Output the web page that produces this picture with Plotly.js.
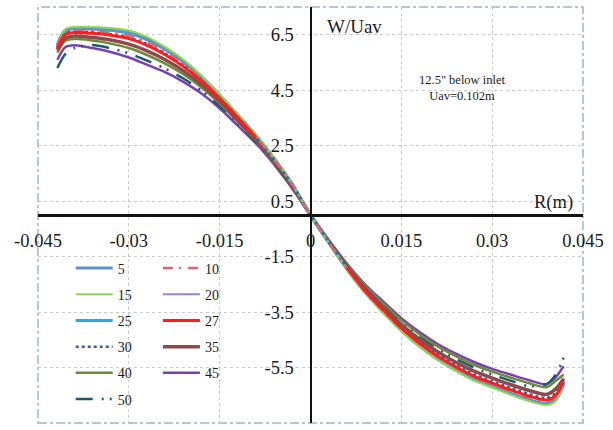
<!DOCTYPE html>
<html><head><meta charset="utf-8">
<script src="https://cdn.plot.ly/plotly-3.0.1.min.js"></script>
<style>html,body{margin:0;padding:0;background:#fff}#chart{width:613px;height:430px}</style>
</head><body><div id="chart"></div><script>
const R = [-0.0418,-0.0405,-0.039,-0.036,-0.033,-0.030,-0.027,-0.024,-0.021,-0.018,-0.015,-0.012,-0.009,-0.006,-0.003,0,0.003,0.006,0.009,0.012,0.015,0.018,0.021,0.024,0.027,0.030,0.033,0.036,0.039,0.0405,0.0418];

const w5  = [6.15,6.67,6.75,6.74,6.70,6.60,6.37,6.00,5.56,4.99,4.33,3.61,2.87,2.04,1.11,0,-1.00,-1.94,-2.79,-3.50,-4.16,-4.73,-5.20,-5.60,-5.94,-6.19,-6.44,-6.67,-6.82,-6.67,-6.10];
const w10 = [6.10,6.57,6.65,6.63,6.57,6.46,6.22,5.87,5.44,4.89,4.25,3.55,2.82,2.00,1.09,0,-0.98,-1.91,-2.75,-3.45,-4.10,-4.65,-5.12,-5.51,-5.85,-6.10,-6.34,-6.56,-6.71,-6.55,-6.00];
const w15 = [6.05,6.70,6.78,6.78,6.74,6.65,6.42,6.05,5.60,5.02,4.35,3.63,2.88,2.05,1.12,0,-1.00,-1.95,-2.80,-3.52,-4.18,-4.75,-5.22,-5.62,-5.97,-6.22,-6.47,-6.70,-6.85,-6.70,-6.05];
const w20 = [6.00,6.62,6.70,6.69,6.64,6.53,6.30,5.94,5.50,4.94,4.29,3.58,2.84,2.02,1.10,0,-0.99,-1.93,-2.78,-3.49,-4.14,-4.71,-5.17,-5.57,-5.92,-6.17,-6.41,-6.64,-6.79,-6.63,-6.05];
const w25 = [6.10,6.65,6.73,6.72,6.67,6.57,6.34,5.98,5.54,4.97,4.31,3.60,2.86,2.03,1.11,0,-0.99,-1.94,-2.78,-3.50,-4.15,-4.72,-5.19,-5.58,-5.93,-6.18,-6.43,-6.66,-6.80,-6.65,-6.08];
const w27 = [6.00,6.50,6.58,6.55,6.48,6.36,6.12,5.78,5.36,4.83,4.20,3.51,2.79,null,null,null,null,-1.90,-2.73,-3.42,-4.07,-4.62,-5.08,-5.47,-5.81,-6.06,-6.30,-6.52,-6.67,-6.50,-6.00];
const w30 = [6.05,6.54,6.61,6.59,6.52,6.41,6.17,5.82,5.40,4.86,4.22,3.53,2.80,1.99,1.08,0,-0.97,-1.88,-2.70,-3.39,-4.03,-4.58,-5.03,-5.42,-5.75,-6.00,-6.23,-6.45,-6.60,-6.42,-5.95];
const w35 = [5.95,6.37,6.45,6.40,6.31,6.16,5.92,5.60,5.20,4.70,4.10,3.42,2.73,1.93,1.03,0,-0.95,-1.85,-2.65,-3.32,-3.95,-4.48,-4.93,-5.31,-5.63,-5.88,-6.11,-6.32,-6.47,-6.27,-5.90];
const w40 = [5.85,6.28,6.35,6.29,6.18,6.02,5.77,5.46,5.08,4.60,4.02,3.36,2.68,1.90,1.01,0,-0.91,-1.78,-2.54,-3.18,-3.79,-4.30,-4.74,-5.09,-5.40,-5.65,-5.86,-6.06,-6.21,-5.98,-5.75];
const w45 = [5.60,6.05,6.12,6.02,5.88,5.68,5.42,5.15,4.80,4.38,3.85,3.22,2.58,1.82,0.95,0,-0.90,-1.75,-2.50,-3.12,-3.72,-4.22,-4.65,-5.00,-5.30,-5.55,-5.75,-5.95,-6.10,-5.85,-5.45];
const w50 = [5.30,5.80,6.02,6.13,6.01,5.83,5.57,5.28,4.92,4.48,3.92,3.28,2.62,1.85,0.98,0,-0.93,-1.81,-2.59,-3.24,-3.86,-4.38,-4.82,-5.19,-5.50,-5.75,-5.97,-6.17,-6.10,-5.75,-5.15];

const names = ['5','10','15','20','25','27','30','35','40','45','50'];
const xTickVals = [-0.045,-0.03,-0.015,0,0.015,0.03,0.045];
const xTickText = ['-0.045','-0.03','-0.015','0','0.015','0.03','0.045'];
const yTickVals = [-7.5,-5.5,-3.5,-1.5,0.5,2.5,4.5,6.5];
const yTickText = ['-7.5','-5.5','-3.5','-1.5','0.5','2.5','4.5','6.5'];

const data = {'5':w5,'10':w10,'15':w15,'20':w20,'25':w25,'27':w27,'30':w30,'35':w35,'40':w40,'45':w45,'50':w50};
const style = {
  '5':  {color:'#5e92d2', width:3, dash:'solid', legend:'legend', rank:1},
  '15': {color:'#8cd84c', width:2, dash:'solid', legend:'legend', rank:2},
  '25': {color:'#2ea8d8', width:3, dash:'solid', legend:'legend', rank:3},
  '30': {color:'#3b5d9e', width:2.5, dash:'dot', legend:'legend', rank:4},
  '40': {color:'#6b8b3a', width:2.5, dash:'solid', legend:'legend', rank:5},
  '50': {color:'#1d5a6b', width:2.5, dash:'17px,9px,2px,6px,2px,9px', legend:'legend', rank:6},
  '10': {color:'#d46a68', width:2.5, dash:'10px,6px,2px,7px', legend:'legend2', rank:1},
  '20': {color:'#9a80d2', width:2, dash:'solid', legend:'legend2', rank:2},
  '27': {color:'#ff1c1c', width:3, dash:'solid', legend:'legend2', rank:3},
  '35': {color:'#8c4a48', width:3.5, dash:'solid', legend:'legend2', rank:4},
  '45': {color:'#7b3fb5', width:2.5, dash:'solid', legend:'legend2', rank:5}
};
const drawOrder = ['45','50','40','35','20','25','5','15','30','10','27'];
const traces = drawOrder.map(n => ({
  x: R, y: data[n], name: n, type:'scatter', mode:'lines',
  line:{color:style[n].color, width:style[n].width, dash:style[n].dash, shape:'spline', smoothing:0.8},
  legend: style[n].legend, legendrank: style[n].rank, legendgroup: 'g'+n,
  connectgaps:false, hoverinfo:'skip'
}));

const serif = 'Liberation Serif';
const legendCommon = {
  bgcolor:'rgba(0,0,0,0)', borderwidth:0, font:{family:serif, size:14, color:'#1a1a1a'},
  itemwidth:37, tracegroupgap:5, traceorder:'grouped', xanchor:'left', yanchor:'top', itemclick:false
};

const layout = {
  width:613, height:430,
  margin:{l:38, r:30, t:7, b:7},
  paper_bgcolor:'#fff', plot_bgcolor:'#fff',
  font:{family:serif},
  showlegend:true,
  xaxis:{
    range:[-0.045,0.045], tickvals:xTickVals, ticktext:xTickText,
    anchor:'free', position:0.5, showline:true, linecolor:'#111', linewidth:2.5,
    zeroline:false, showgrid:true, gridcolor:'#c9c9c9', griddash:'dot', gridwidth:1,
    ticks:'', ticklabelstandoff:8, automargin:false,
    tickfont:{family:serif, size:18.5, color:'#1a1a1a'}
  },
  yaxis:{
    range:[-7.5,7.5], tickvals:yTickVals, ticktext:yTickText,
    anchor:'free', position:0.5, showline:true, linecolor:'#111', linewidth:2.5,
    zeroline:false, showgrid:true, gridcolor:'#c9c9c9', griddash:'dot', gridwidth:1,
    ticks:'', ticklabelstandoff:12, automargin:false,
    tickfont:{family:serif, size:18.5, color:'#1a1a1a'}
  },
  legend: Object.assign({}, legendCommon, {x:0.06, y:0.41}),
  legend2: Object.assign({}, legendCommon, {x:0.22, y:0.41}),
  shapes:[{type:'rect', xref:'paper', yref:'paper', x0:0, x1:1, y0:0, y1:1,
    line:{color:'#9fb4d0', width:1.5, dash:'dashdot'}, layer:'below'}],
  annotations:[
    {xref:'paper', yref:'paper', x:0.527, y:0.952, xanchor:'left', yanchor:'middle', showarrow:false,
     text:'W/Uav', font:{family:serif, size:19, color:'#1a1a1a'}},
    {xref:'paper', yref:'paper', x:0.985, y:0.529, xanchor:'right', yanchor:'middle', showarrow:false,
     text:'R(m)', font:{family:serif, size:18.5, color:'#1a1a1a'}},
    {xref:'paper', yref:'paper', x:0.778, y:0.805, xanchor:'center', yanchor:'middle', showarrow:false,
     text:'12.5" below inlet<br>Uav=0.102m', align:'center', font:{family:serif, size:12.5, color:'#1a1a1a'}}
  ]
};
Plotly.newPlot('chart', traces, layout, {staticPlot:true, displayModeBar:false});
</script></body></html>
